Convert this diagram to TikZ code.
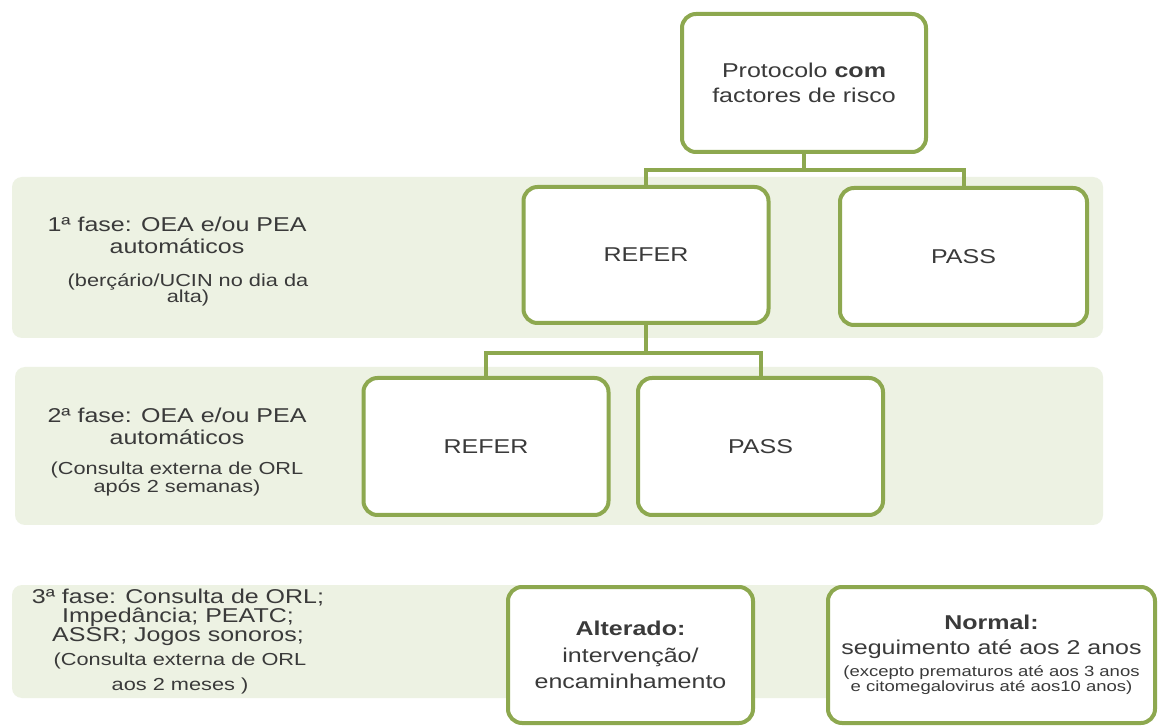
\documentclass[tikz,border=0pt]{standalone}
\usepackage{fontspec}
\setmainfont[FakeStretch=1.25]{Liberation Sans}
\lineskiplimit=-20pt
\definecolor{boxgreen}{HTML}{8DA84F}
\definecolor{bandfill}{HTML}{EDF2E3}
\definecolor{txt}{HTML}{3A3A3A}
\tikzset{
  stepbox/.style={draw=boxgreen, line width=2pt, rounded corners=7pt, fill=white,
    inner sep=0pt, align=center, text=txt, font=\fontsize{10}{12.5}\selectfont},
  conn/.style={draw=boxgreen, line width=2pt},
  band/.style={fill=bandfill, rounded corners=5pt},
  lbl/.style={align=center, text=txt, inner sep=0pt},
}
\begin{document}
\begin{tikzpicture}[x=0.5pt,y=-0.5pt]
\useasboundingbox (0,0) rectangle (1158,727);
\fill[white] (0,0) rectangle (1158,727);
% bands
\fill[band] (12,177) rectangle (1103,338);
\fill[band] (15,367) rectangle (1103,525);
\fill[band] (12,585) rectangle (1103,698);
% boxes
\node[stepbox, minimum width=122pt, minimum height=69pt] (top) at (804,83)
  {Protocolo \textbf{com}\\factores de risco};
\node[stepbox, minimum width=122.5pt, minimum height=68pt] (refer1) at (646,255) {REFER};
\node[stepbox, minimum width=123.5pt, minimum height=68.5pt] (pass1) at (963.5,256.5) {PASS};
\node[stepbox, minimum width=122.5pt, minimum height=68.5pt] (refer2) at (486,446.5) {REFER};
\node[stepbox, minimum width=122.5pt, minimum height=68.5pt] (pass2) at (760.5,446.5) {PASS};
\node[stepbox, minimum width=122.5pt, minimum height=68pt, font=\fontsize{10}{13.2}\selectfont] (alt) at (630.5,655)
  {\textbf{Alterado:}\\intervenção/\\encaminhamento};
\node[stepbox, minimum width=163.5pt, minimum height=68pt] (normal) at (991.5,655)
  {\textbf{Normal:}\\seguimento até aos 2 anos\\[-1.5pt]{\fontsize{7.4}{6}\selectfont (excepto prematuros até aos 3 anos}\\[-5pt]{\fontsize{7.4}{6}\selectfont e citomegalovirus até aos10 anos)}};
% connectors
\draw[conn] (top.south) -- ++(0,16) -| (refer1.north);
\draw[conn] (top.south) -- ++(0,16) -| (pass1.north);
\draw[conn] (refer1.south) -- ++(0,28) -| (refer2.north);
\draw[conn] (refer1.south) -- ++(0,28) -| (pass2.north);
% phase labels
\node[lbl, font=\fontsize{10}{11}\selectfont] (ph1) at (177,235) {1ª fase: OEA e/ou PEA\\automáticos};
\node[lbl, font=\fontsize{8.7}{8}\selectfont] (ph1n) at (188,290) {(berçário/UCIN no dia da\\alta)};
\node[lbl, font=\fontsize{10}{11}\selectfont] (ph2) at (177,426) {2ª fase: OEA e/ou PEA\\automáticos};
\node[lbl, font=\fontsize{8.7}{9}\selectfont] (ph2n) at (177,479) {(Consulta externa de ORL\\após 2 semanas)};
\node[lbl, font=\fontsize{10}{9.5}\selectfont] (ph3) at (178,617) {3ª fase: Consulta de ORL;\\Impedância; PEATC;\\ASSR; Jogos sonoros;};
\node[lbl, font=\fontsize{8.7}{12.5}\selectfont] (ph3n) at (180,673) {(Consulta externa de ORL\\aos 2 meses )};
\end{tikzpicture}
\end{document}
